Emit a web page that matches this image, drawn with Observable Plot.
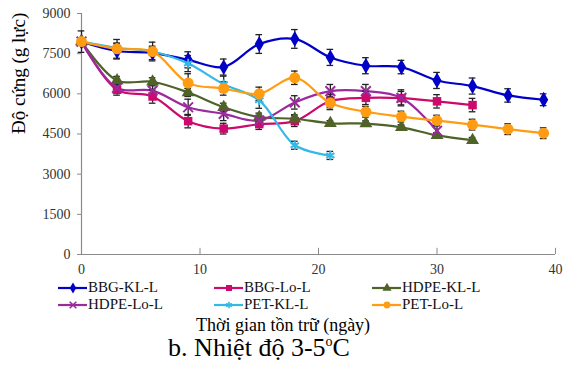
<!DOCTYPE html>
<html>
<head>
<meta charset="utf-8">
<script src="https://cdn.jsdelivr.net/npm/d3@7"></script>
<script src="https://cdn.jsdelivr.net/npm/@observablehq/plot@0.6"></script>
<style>
  body { margin: 0; background: #fff; font-family: "Liberation Serif", "DejaVu Serif", serif; }
  #wrap { position: relative; width: 569px; height: 377px; overflow: hidden; }
  #chart { position: absolute; left: 0; top: 0; }
  .leg { position: absolute; font-size: 15px; color: #111; display: flex; align-items: center; white-space: nowrap; }
  .leg svg { margin-right: 1px; }
  .ctr { position: absolute; transform: translateX(-50%); white-space: nowrap; color: #000; font-family: "Liberation Serif", "DejaVu Serif", serif; }
</style>
</head>
<body>
<div id="wrap">
  <div id="chart"></div>
  <div id="legend"></div>
  <div class="ctr" style="left:283px; top:315px; font-size:18px;">Thời gian tồn trữ (ngày)</div>
  <div class="ctr" style="left:259px; top:333px; font-size:26px;">b. Nhiệt độ 3-5<sup style="font-size:14px;">o</sup>C</div>
</div>
<script>
// ---- data ----
const seriesNames = ["BBG-KL-L", "BBG-Lo-L", "HDPE-KL-L", "HDPE-Lo-L", "PET-KL-L", "PET-Lo-L"];
const days = [0, 3, 6, 9, 12, 15, 18, 21, 24, 27, 30, 33, 36, 39];

const bbgKL  = [7950, 7600, 7530, 7270, 7000, 7860, 8050, 7360, 7050, 7000, 6500, 6290, 5940, 5780];
const bbgKLe = [400, 300, 250, 300, 300, 350, 350, 300, 300, 250, 300, 300, 250, 220];
const bbgLo  = [7950, 6150, 5900, 4980, 4700, 4870, 4980, 5730, 5850, 5840, 5720, 5580];
const bbgLoe = [0, 200, 250, 250, 200, 200, 200, 250, 250, 250, 250, 250];
const hdpeKL  = [7950, 6500, 6450, 6050, 5500, 5130, 5070, 4900, 4890, 4750, 4450, 4270];
const hdpeKLe = [0, 150, 150, 150, 150, 150, 150, 100, 100, 100, 100, 100];
const hdpeLo  = [7950, 6220, 6120, 5500, 5250, 5000, 5680, 6100, 6100, 5850, 4620];
const hdpeLoe = [0, 200, 200, 300, 250, 200, 250, 250, 250, 300, 200];
const petKL  = [7950, 7720, 7580, 7130, 6360, 5760, 4080, 3700];
const petKLe = [0, 150, 150, 300, 300, 300, 150, 150];
const petLo  = [7950, 7680, 7580, 6400, 6200, 6000, 6600, 5660, 5330, 5150, 5000, 4850, 4680, 4530];
const petLoe = [0, 350, 350, 350, 250, 250, 250, 250, 200, 200, 200, 200, 200, 200];

const yTicks = [0, 1500, 3000, 4500, 6000, 7500, 9000];
const xTicks = [0, 10, 20, 30, 40];

const colors  = ["#0000C8", "#CC0A6E", "#4F6228", "#9A2A9E", "#33B8E8", "#FF9C12"];
const symbols = ["diamond", "square", "triangle", "times", "asterisk", "circle"];
const filled  = [true, true, true, false, false, true];
const FONT = "Liberation Serif";

// ---- build table ----
const allVals = [bbgKL, bbgLo, hdpeKL, hdpeLo, petKL, petLo];
const allErrs = [bbgKLe, bbgLoe, hdpeKLe, hdpeLoe, petKLe, petLoe];
const rows = [];
allVals.forEach((vals, si) => {
  vals.forEach((v, i) => rows.push({series: seriesNames[si], day: days[i], value: v, err: allErrs[si][i]}));
});
const errRows = rows.filter(d => d.err > 0);
const capW = 0.28;

const marks = [
  Plot.ruleX([0], {y1: 0, y2: 9000, stroke: "#8a8a8a", strokeWidth: 1.2}),
  Plot.ruleY([0], {x1: 0, x2: 40, stroke: "#8a8a8a", strokeWidth: 1.2}),
  Plot.ruleX(xTicks.slice(1), {x: d => d, y1: 0, y2: 230, stroke: "#8a8a8a", strokeWidth: 1}),
  Plot.axisY({ticks: yTicks, tickFormat: d => String(d), tickSize: 4, tickPadding: 7, fontSize: 14, fontFamily: FONT, label: null, stroke: "#8a8a8a", color: "#333"}),
  Plot.axisX({ticks: xTicks, tickFormat: d => String(d), tickSize: 0, tickPadding: 10, fontSize: 14, fontFamily: FONT, label: null, color: "#333"}),
  Plot.text(["Độ cứng (g lực)"], {frameAnchor: "left", rotate: -90, dx: -63, fontSize: 19, fontFamily: FONT, fill: "#000"})
];

allVals.forEach((vals, si) => {
  const data = rows.filter(d => d.series === seriesNames[si]);
  marks.push(Plot.line(data, {x: "day", y: "value", stroke: colors[si], strokeWidth: 2.2, curve: "catmull-rom"}));
});
// error bars
marks.push(Plot.ruleX(errRows, {x: "day", y1: d => d.value - d.err, y2: d => d.value + d.err, stroke: "#222", strokeWidth: 1.3}));
marks.push(Plot.ruleY(errRows, {y: d => d.value + d.err, x1: d => d.day - capW, x2: d => d.day + capW, stroke: "#222", strokeWidth: 1.3}));
marks.push(Plot.ruleY(errRows, {y: d => d.value - d.err, x1: d => d.day - capW, x2: d => d.day + capW, stroke: "#222", strokeWidth: 1.3}));
// markers
allVals.forEach((vals, si) => {
  const data = rows.filter(d => d.series === seriesNames[si]);
  if (filled[si]) {
    marks.push(Plot.dot(data, {x: "day", y: "value", symbol: () => symbols[si], fill: colors[si], r: si === 5 ? 5.5 : 4.8}));
  } else {
    marks.push(Plot.dot(data, {x: "day", y: "value", symbol: () => symbols[si], stroke: colors[si], strokeWidth: 2, r: 4.5}));
  }
});

const chart = Plot.plot({
  width: 569,
  height: 280,
  marginLeft: 81,
  marginRight: 14,
  marginTop: 13,
  marginBottom: 26,
  style: {background: "#fff", overflow: "visible", fontFamily: FONT},
  x: {domain: [0, 40]},
  y: {domain: [0, 9000]},
  symbol: {type: "identity"},
  marks
});
document.getElementById("chart").appendChild(chart);

// ---- legend ----
const legPos = [[58, 279], [214, 279], [372, 279], [58, 296], [214, 296], [372, 296]];
const legend = document.getElementById("legend");
seriesNames.forEach((name, i) => {
  const item = document.createElement("div");
  item.className = "leg";
  item.style.left = legPos[i][0] + "px";
  item.style.top = legPos[i][1] + "px";
  const sw = d3.create("svg").attr("width", 29).attr("height", 16);
  sw.append("line").attr("x1", 0).attr("x2", 29).attr("y1", 8).attr("y2", 8).attr("stroke", colors[i]).attr("stroke-width", 2.2);
  const sym = d3.symbol().type({diamond: d3.symbolDiamond, square: d3.symbolSquare, triangle: d3.symbolTriangle, times: d3.symbolTimes, asterisk: d3.symbolAsterisk, circle: d3.symbolCircle}[symbols[i]]).size(filled[i] ? 36 : 30);
  const p = sw.append("path").attr("d", sym()).attr("transform", "translate(15,8)");
  if (filled[i]) p.attr("fill", colors[i]); else p.attr("fill", "none").attr("stroke", colors[i]).attr("stroke-width", 1.6);
  item.appendChild(sw.node());
  const t = document.createElement("span");
  t.textContent = name;
  item.appendChild(t);
  legend.appendChild(item);
});
</script>
</body>
</html>
